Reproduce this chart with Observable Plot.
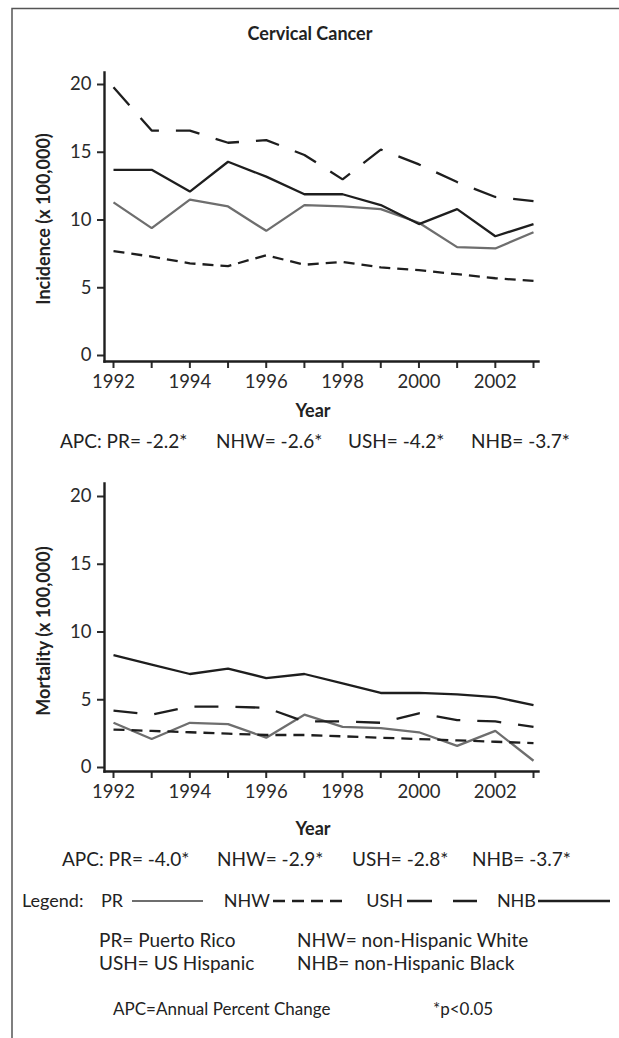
<!DOCTYPE html>
<html><head><meta charset="utf-8">
<script src="https://cdn.jsdelivr.net/npm/d3@7"></script>
<script src="https://cdn.jsdelivr.net/npm/@observablehq/plot@0.6"></script>
<style>
body{margin:0;background:#fff;}
#root{position:relative;width:619px;height:1038px;overflow:hidden;font-family:Lato,sans-serif;color:#222;}
#root svg{position:absolute;left:0;}
.t{position:absolute;white-space:nowrap;line-height:1;font-size:19px;transform:translateY(-50%);}
.c{transform:translate(-50%,-50%);}
.e{transform:translate(-100%,-50%);}
.b{font-weight:bold;font-size:18px;}
.r{transform:translate(-50%,-50%) rotate(-90deg);}
</style></head><body><div id="root"></div>
<script>
// ---- data ----
const years = [1992,1993,1994,1995,1996,1997,1998,1999,2000,2001,2002,2003];
const groups = ["PR","NHW","USH","NHB"];
const yTicks = [0,5,10,15,20];
const xTickLabels = [1992,1994,1996,1998,2000,2002];

const incidencePR  = [11.3, 9.4, 11.5, 11.0, 9.2, 11.1, 11.0, 10.8, 9.8, 8.0, 7.9, 9.1];
const incidenceNHW = [7.7, 7.3, 6.8, 6.6, 7.4, 6.7, 6.9, 6.5, 6.3, 6.0, 5.7, 5.5];
const incidenceUSH = [19.8, 16.6, 16.6, 15.7, 15.9, 14.8, 13.0, 15.2, 14.1, 12.8, 11.7, 11.4];
const incidenceNHB = [13.7, 13.7, 12.1, 14.3, 13.2, 11.9, 11.9, 11.1, 9.7, 10.8, 8.8, 9.7];

const mortalityPR  = [3.3, 2.1, 3.3, 3.2, 2.2, 3.9, 3.0, 2.9, 2.6, 1.6, 2.7, 0.5];
const mortalityNHW = [2.8, 2.7, 2.6, 2.5, 2.4, 2.4, 2.3, 2.2, 2.1, 2.0, 1.9, 1.8];
const mortalityUSH = [4.2, 3.9, 4.5, 4.5, 4.4, 3.4, 3.4, 3.3, 4.0, 3.5, 3.4, 3.0];
const mortalityNHB = [8.3, 7.6, 6.9, 7.3, 6.6, 6.9, 6.2, 5.5, 5.5, 5.4, 5.2, 4.6];

const apcIncidence = ["APC: PR= -2.2*", "NHW= -2.6*", "USH= -4.2*", "NHB= -3.7*"];
const apcMortality = ["APC: PR= -4.0*", "NHW= -2.9*", "USH= -2.8*", "NHB= -3.7*"];

// ---- styles ----
const colors = {PR: "#6e6e6e", NHW: "#1e1e1e", USH: "#1e1e1e", NHB: "#1e1e1e"};
const dashes = {PR: null, NHW: "11,7", USH: "24,17", NHB: null};

const root = document.getElementById("root");

function chart(series, o) {
  const data = [];
  groups.forEach(g => series[g].forEach((v, i) => data.push({year: years[i], value: v, group: g})));
  const svg = Plot.plot({
    width: 619, height: o.height,
    marginLeft: 104, marginRight: 81, marginTop: o.marginTop, marginBottom: o.marginBottom,
    style: {fontFamily: "Lato, sans-serif", fontSize: "18.5px", color: "#2a2a2a", background: "transparent", overflow: "visible"},
    x: {domain: [years[0], years[years.length - 1]], insetLeft: 9, insetRight: 5},
    y: {domain: [0, 20], insetTop: o.insetTop, insetBottom: o.insetBottom},
    marks: [
      Plot.axisX({ticks: years, tickFormat: d => xTickLabels.includes(d) ? String(d) : "", tickSize: 7, tickPadding: 6, strokeWidth: 2, label: null}),
      Plot.axisY({ticks: yTicks, tickSize: 7, tickPadding: 6, strokeWidth: 2, label: null}),
      Plot.frame({anchor: "left", stroke: "#1e1e1e", strokeWidth: 2.4}),
      Plot.frame({anchor: "bottom", stroke: "#1e1e1e", strokeWidth: 2.4}),
      ...groups.map(g => Plot.line(data.filter(d => d.group === g), {
        x: "year", y: "value", stroke: colors[g], strokeWidth: 2.3,
        strokeDasharray: dashes[g], strokeLinejoin: "miter", strokeLinecap: "butt"
      }))
    ]
  });
  svg.style.top = o.top + "px";
  root.appendChild(svg);
}

chart({PR: incidencePR, NHW: incidenceNHW, USH: incidenceUSH, NHB: incidenceNHB},
  {top: 0, height: 395, marginTop: 72, marginBottom: 34, insetTop: 12, insetBottom: 6});
chart({PR: mortalityPR, NHW: mortalityNHW, USH: mortalityUSH, NHB: mortalityNHB},
  {top: 400, height: 420, marginTop: 83, marginBottom: 49, insetTop: 13, insetBottom: 4});

// ---- texts ----
function txt(s, x, y, cls, extra) {
  const d = document.createElement("div");
  d.className = "t " + (cls || "");
  d.textContent = s;
  d.style.left = x + "px"; d.style.top = y + "px";
  if (extra) Object.assign(d.style, extra);
  root.appendChild(d);
}
txt("Cervical Cancer", 310, 33, "c b");
txt("Incidence (x 100,000)", 43, 219, "r b");
txt("Year", 313, 410, "c b");
const apcX1 = [60, 216, 348, 471];
apcIncidence.forEach((s, i) => txt(s, apcX1[i], 440));
txt("Mortality (x 100,000)", 43, 631, "r b");
txt("Year", 313, 828, "c b");
const apcX2 = [62, 217, 352, 472];
apcMortality.forEach((s, i) => txt(s, apcX2[i], 858));

// legend
const legendFont = {fontSize: "18px"};
txt("Legend:", 22, 900, "", legendFont);
txt("PR", 123, 900, "e", legendFont);
txt("NHW", 270, 900, "e", legendFont);
txt("USH", 403, 900, "e", legendFont);
txt("NHB", 536, 900, "e", legendFont);
const ns = "http://www.w3.org/2000/svg";
const lg = document.createElementNS(ns, "svg");
lg.setAttribute("width", 619); lg.setAttribute("height", 1038);
lg.style.top = "0px";
[[132, 203, "PR"], [273, 345, "NHW"], [407, 477, "USH"], [538, 610, "NHB"]].forEach(([a, b, g]) => {
  const l = document.createElementNS(ns, "line");
  l.setAttribute("x1", a); l.setAttribute("x2", b);
  l.setAttribute("y1", 901); l.setAttribute("y2", 901);
  l.setAttribute("stroke", colors[g]); l.setAttribute("stroke-width", g === "PR" ? 2.2 : 2.6);
  if (g === "NHW") l.setAttribute("stroke-dasharray", "12,7");
  if (g === "USH") l.setAttribute("stroke-dasharray", "25,21");
  lg.appendChild(l);
});
// frame (left and top border of the figure panel)
const f1 = document.createElementNS(ns, "path");
f1.setAttribute("d", "M12,1038V8.5H619");
f1.setAttribute("fill", "none"); f1.setAttribute("stroke", "#555"); f1.setAttribute("stroke-width", 1.5);
lg.appendChild(f1);
root.appendChild(lg);

txt("PR= Puerto Rico", 99, 939);
txt("NHW= non-Hispanic White", 297, 939);
txt("USH= US Hispanic", 99, 962);
txt("NHB= non-Hispanic Black", 297, 962);
txt("APC=Annual Percent Change", 113, 1008, "", {fontSize: "17px"});
txt("*p<0.05", 433, 1008, "", {fontSize: "17px"});
</script>
</body></html>
